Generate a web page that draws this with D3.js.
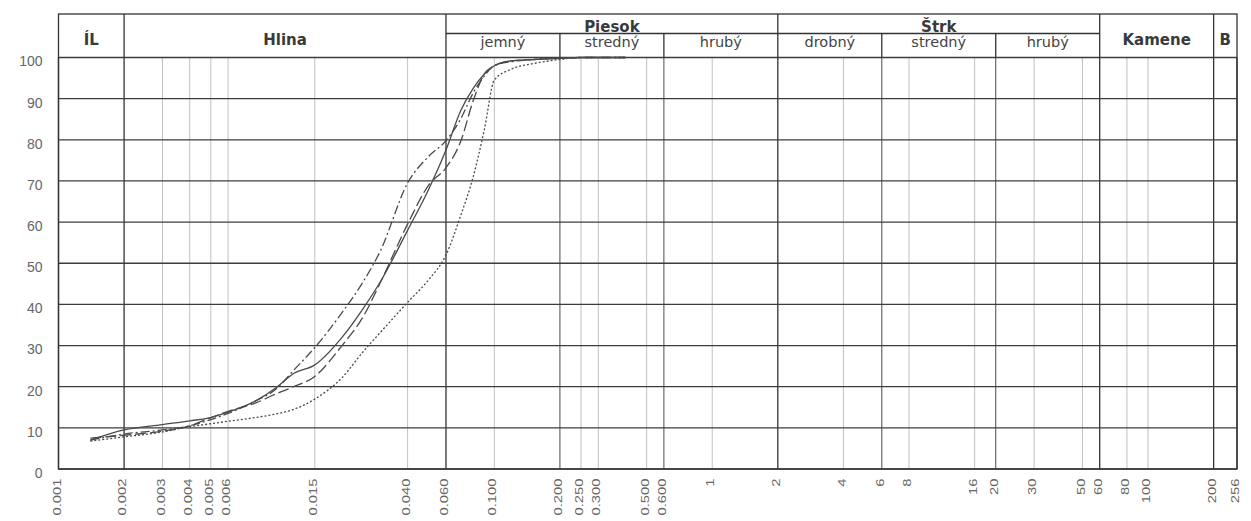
<!DOCTYPE html>
<html>
<head>
<meta charset="utf-8">
<script src="https://cdnjs.cloudflare.com/ajax/libs/d3/7.8.5/d3.min.js"></script>
<style>
    body { margin: 0; background: #fff; }
    .grid-h { stroke: #3c3c3c; stroke-width: 1.3; }
    .grid-v { stroke: #b0b0b0; stroke-width: 0.8; }
    .grid-v.sub { stroke: #5a5a5a; stroke-width: 1.1; }
    .grid-v.major { stroke: #333; stroke-width: 1.3; }
    .frame { fill: none; stroke: #333; stroke-width: 1.3; }
    .head { font-family: "DejaVu Sans"; font-weight: bold; font-size: 15px; fill: #3a3a3a; text-anchor: middle; }
    .subhead { font-family: "DejaVu Sans"; font-size: 14.5px; fill: #444; text-anchor: middle; }
    .curve { fill: none; stroke: #4a4a4a; stroke-width: 1.3; }
</style>
</head>
<body>
<div id="chart"></div>
<script>
    // x ticks (grain size, mm)
    const tickValues = [0.001, 0.002, 0.003, 0.004, 0.005, 0.006, 0.015, 0.040, 0.060, 0.100, 0.200, 0.250, 0.300, 0.500, 0.600, 1, 2, 4, 6, 8, 16, 20, 30, 50, 60, 80, 100, 200, 256];
    const tickLabels = ['0.001', '0.002', '0.003', '0.004', '0.005', '0.006', '0.015', '0.040', '0.060', '0.100', '0.200', '0.250', '0.300', '0.500', '0.600', '1', '2', '4', '6', '8', '16', '20', '30', '50', '60', '80', '100', '200', '256'];
    const yTicks = [0, 10, 20, 30, 40, 50, 60, 70, 80, 90, 100];

    // soil fractions (header)
    const mainClasses = ['ÍL', 'Hlina', 'Piesok', 'Štrk', 'Kamene', 'B'];
    const mainEdges = [0.001, 0.002, 0.06, 2, 60, 200, 256];
    const subClasses = ['jemný', 'stredný', 'hrubý', 'drobný', 'stredný', 'hrubý'];
    const subEdges = [0.06, 0.2, 0.6, 2, 6, 20, 60];
    const subBounds = [0.2, 0.6, 6, 20];

    // grading curves (% passing)
    const sizes = [0.0014, 0.002, 0.003, 0.004, 0.005, 0.006, 0.008, 0.01, 0.012, 0.015, 0.02, 0.025, 0.03, 0.04, 0.05, 0.06, 0.07, 0.08, 0.09, 0.1, 0.12, 0.15, 0.2, 0.25, 0.4];
    const solid    = [7, 9.5, 10.8, 11.7, 12.5, 13.8, 16.5, 19.8, 23.2, 25.3, 32, 39, 45.5, 58, 68, 77.5, 87, 92.5, 96, 98, 99.2, 99.5, 99.8, 100, 100];
    const longDash = [7.5, 8.2, 9.2, 10.5, 12.5, 14, 16, 18.3, 20, 22.5, 30, 37, 45.3, 59.5, 69, 73.2, 79.5, 89.5, 96, 98, 99.2, 99.5, 99.8, 100, 100];
    const dashDot  = [7, 8.5, 9.5, 10.5, 12, 13.5, 16.5, 19.5, 24, 29.5, 38, 45.5, 53, 69.5, 76, 79.8, 85, 91.4, 95.5, 98, 99, 99.5, 99.8, 100, 100];
    const dotted   = [6.8, 7.8, 9, 10.3, 11, 11.6, 12.5, 13.4, 14.5, 17, 22.2, 28.5, 33.2, 40.5, 46, 52, 61.5, 71, 82.5, 94.5, 97.2, 98.5, 99.5, 100, 100];

    const width = 1251, height = 521;
    const headTop = 14, subRow = 33.5;

    const svg = d3.select('#chart').append('svg')
        .attr('width', width)
        .attr('height', height);

    const x = d3.scaleLog().domain([0.001, 256]).range([58.5, 1237]);
    const y = d3.scaleLinear().domain([0, 100]).range([469, 57.5]);

    // vertical grid
    svg.append('g').selectAll('line')
        .data(tickValues)
        .enter().append('line')
            .attr('class', d => 'grid-v' + (mainEdges.includes(d) ? ' major' : subBounds.includes(d) ? ' sub' : ''))
            .attr('x1', d => x(d)).attr('x2', d => x(d))
            .attr('y1', y(100)).attr('y2', y(0));

    // horizontal grid
    svg.append('g').selectAll('line')
        .data(yTicks)
        .enter().append('line')
            .attr('class', 'grid-h')
            .attr('x1', x(0.001)).attr('x2', x(256))
            .attr('y1', d => y(d)).attr('y2', d => y(d));

    // header
    const head = svg.append('g');
    head.append('rect').attr('class', 'frame')
        .attr('x', x(0.001)).attr('y', headTop)
        .attr('width', x(256) - x(0.001)).attr('height', y(0) - headTop);
    head.selectAll('.hdiv')
        .data(mainEdges.slice(1, -1))
        .enter().append('line')
            .attr('class', 'frame')
            .attr('x1', d => x(d)).attr('x2', d => x(d))
            .attr('y1', headTop).attr('y2', y(100));
    head.selectAll('.sdiv')
        .data(subBounds)
        .enter().append('line')
            .attr('class', 'frame')
            .attr('x1', d => x(d)).attr('x2', d => x(d))
            .attr('y1', subRow).attr('y2', y(100));
    head.append('line').attr('class', 'frame')
        .attr('x1', x(0.06)).attr('x2', x(60))
        .attr('y1', subRow).attr('y2', subRow);

    head.selectAll('.mlab')
        .data(mainClasses)
        .enter().append('text')
            .attr('class', 'head')
            .attr('x', (d, i) => (x(mainEdges[i]) + x(mainEdges[i + 1])) / 2)
            .attr('y', d => (d === 'Piesok' || d === 'Štrk') ? 31.5 : 44.5)
            .text(d => d);
    head.selectAll('.slab')
        .data(subClasses)
        .enter().append('text')
            .attr('class', 'subhead')
            .attr('x', (d, i) => (x(subEdges[i]) + x(subEdges[i + 1])) / 2)
            .attr('y', 47)
            .text(d => d);

    // axes
    const xAxis = svg.append('g')
        .attr('transform', `translate(0,${y(0)})`)
        .call(d3.axisBottom(x).tickValues(tickValues).tickFormat((d, i) => tickLabels[i]).tickSize(0));
    xAxis.select('.domain').remove();
    xAxis.selectAll('text')
        .attr('font-family', 'Liberation Sans')
        .attr('font-size', 11)
        .attr('fill', '#666')
        .attr('text-anchor', 'end')
        .attr('y', 0).attr('x', -7).attr('dy', '0.15em')
        .attr('transform', 'rotate(-90) scale(1.35,1)');

    const yAxis = svg.append('g')
        .attr('transform', `translate(${x(0.001)},0)`)
        .call(d3.axisLeft(y).tickValues(yTicks).tickSize(0).tickPadding(16));
    yAxis.select('.domain').remove();
    yAxis.selectAll('text')
        .attr('font-family', 'Liberation Sans')
        .attr('font-size', 14)
        .attr('fill', '#666')
        .attr('dy', '0.6em');

    // curves
    const line = d3.line()
        .x(d => x(d[0]))
        .y(d => y(d[1]))
        .curve(d3.curveMonotoneX);

    const series = [
        { values: dotted, dash: '2,2', color: '#8a8a8a', w: 1.1 },
        { values: dashDot, dash: '9,3,2,3', color: '#555', w: 1.2 },
        { values: longDash, dash: '11,4', color: '#555', w: 1.2 },
        { values: solid, dash: null, color: '#444', w: 1.3 }
    ];

    svg.append('g').selectAll('path')
        .data(series)
        .enter().append('path')
            .attr('class', 'curve')
            .attr('d', s => line(sizes.map((d, i) => [d, s.values[i]])))
            .attr('stroke', s => s.color)
            .attr('stroke-width', s => s.w)
            .attr('stroke-dasharray', s => s.dash);
</script>
</body>
</html>
